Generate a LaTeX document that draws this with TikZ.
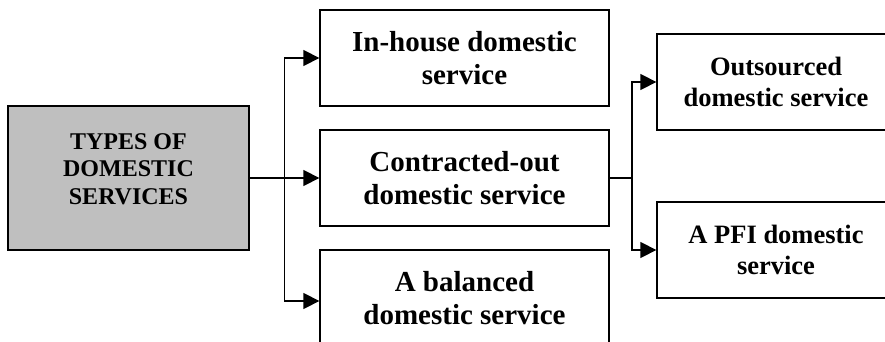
\documentclass[tikz,border=0pt]{standalone}
\usepackage{fontspec}
\setmainfont{Liberation Serif}
\usetikzlibrary{arrows.meta}

\begin{document}
\begin{tikzpicture}[x=1pt, y=-1pt, line width=1.3pt,
        servicebox/.style={draw, rectangle, align=center, font=\bfseries, inner sep=0pt},
        midbox/.style={servicebox, minimum width=289pt, minimum height=96pt, font=\bfseries\fontsize{29}{33}\selectfont},
        outbox/.style={servicebox, minimum width=238pt, minimum height=96pt, font=\bfseries\fontsize{26.5}{30.5}\selectfont},
        branch/.style={-{Triangle[length=16pt, width=16pt]}}]

    \useasboundingbox (0,0) rectangle (885,342);
    \clip (0,0) rectangle (885,342);

    % main type
    \node[servicebox, fill=black!25, minimum width=241pt, minimum height=144pt,
        label={[align=center, font=\bfseries\fontsize{24}{27.5}\selectfont, yshift=9pt]center:TYPES OF\\DOMESTIC\\SERVICES}]
        (types) at (128.5,178) {};

    % middle column
    \node[midbox] (inhouse) at (464.5,58) {In-house domestic\\service};
    \node[midbox] (contracted) at (464.5,178) {Contracted-out\\domestic service};
    \node[midbox] (balanced) at (464.5,298) {A balanced\\domestic service};

    % right column
    \node[outbox] (outsourced) at (776,82) {Outsourced\\domestic service};
    \node[outbox] (pfi) at (776,250) {A PFI domestic\\service};

    % connectors
    \coordinate (split) at (284.5,178);
    \coordinate (subsplit) at (632,178);
    \draw (types.east) -- (split);
    \draw[branch] (split) |- (inhouse.west);
    \draw[branch] (split) -- (contracted.west);
    \draw[branch] (split) |- ([yshift=-3pt]balanced.west);
    \draw (contracted.east) -- (subsplit);
    \draw[branch] (subsplit) |- (outsourced.west);
    \draw[branch] (subsplit) |- (pfi.west);
\end{tikzpicture}
\end{document}
